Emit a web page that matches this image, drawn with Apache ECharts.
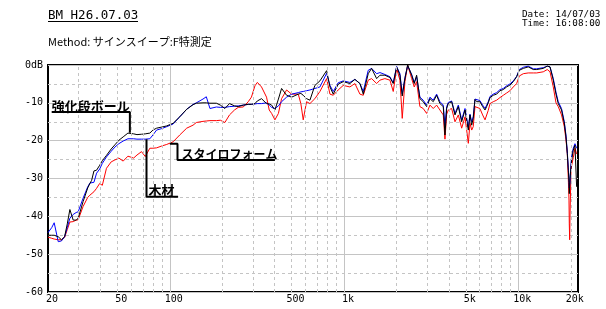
<!DOCTYPE html>
<html>
<head>
<meta charset="utf-8">
<script src="https://cdn.jsdelivr.net/npm/echarts@6/dist/echarts.min.js"></script>
<style>
html, body { margin: 0; padding: 0; background: #fff; }
#chart { width: 606px; height: 309px; }
</style>
</head>
<body>
<div id="chart"></div>
<script>
// frequency points (Hz)
var freqs = [20, 21, 21.7, 22.9, 23.9, 24.9, 25.8, 26.7, 27.9, 29.0, 29.8, 31.8, 33.8, 34.8, 35.6, 36.7, 38.0, 39.6, 41.0, 43.3,
  46.1, 48.4, 51.0, 54.0, 57.5, 59.0, 62, 64.8, 68.8, 72.3, 76.8, 80, 84, 90, 96, 104.5, 114, 125, 136, 142,
  155, 162, 170, 185, 195, 207, 220, 235, 247, 264, 282, 294, 308, 318, 336, 359, 372, 384, 401, 420,
  438, 468, 500, 546, 565, 583, 609, 637, 680, 727, 794, 830, 867, 925, 989, 1080, 1154, 1233, 1289, 1376,
  1439, 1538, 1607, 1715, 1833, 1915, 2003, 2092, 2157, 2235, 2317, 2443, 2527, 2608, 2724, 2846, 2977, 3111, 3249, 3397,
  3549, 3709, 3793, 3880, 3963, 4143, 4331, 4526, 4730, 4943, 5165, 5280, 5400, 5510, 5640, 5770, 6020, 6240, 6440, 6580,
  6720, 6880, 7180, 7510, 7850, 8200, 8570, 8950, 9360, 9780, 10130, 10680, 11400, 11660, 12190, 12740, 13020, 13900, 14660, 15200,
  15870, 16450, 16950, 17700, 18360, 18770, 19100, 19350, 19530, 19610, 19710, 19790, 20050, 20240, 20670, 21140, 21600];

// 強化段ボール (black)
var dbBoard = [-45.0, -45.0, -45.0, -45.4, -46.2, -45.4, -42.0, -38.2, -41.0, -41.0, -40.5, -36.1, -32.5, -31.3, -30.5, -28.0, -27.8, -26.5, -25.3, -23.9,
  -22.2, -21.1, -19.9, -19.0, -18.0, -17.9, -18.2, -18.4, -18.3, -18.2, -18.0, -17.2, -16.7, -16.4, -16.1, -15.4, -13.7, -11.7, -10.5, -10.1,
  -10.0, -10.0, -10.1, -10.1, -10.6, -11.5, -10.2, -10.8, -11.0, -10.6, -10.4, -10.4, -10.2, -9.5, -8.9, -10.2, -10.3, -10.6, -11.9, -9.0,
  -6.2, -8.0, -8.5, -7.7, -7.5, -8.0, -8.9, -9.3, -5.4, -4.2, -1.5, -5.8, -7.7, -5.1, -4.4, -4.9, -3.8, -4.9, -7.7, -2.3,
  -0.9, -3.6, -2.7, -2.7, -3.3, -4.9, -0.5, -2.7, -8.2, -3.6, 0, -2.7, -4.9, -2.7, -8.9, -9.7, -11.0, -8.9, -9.7, -8.0,
  -10.2, -11.0, -18.5, -11.5, -10.2, -9.7, -13.2, -11.0, -15.0, -11.9, -17.2, -13.2, -15.9, -14.1, -9.1, -9.7, -9.7, -11.0, -11.9, -11.0,
  -10.0, -8.6, -8.0, -7.7, -6.8, -6.5, -5.8, -5.3, -4.4, -3.1, -1.4, -0.9, -0.5, -0.7, -1.2, -1.2, -1.2, -0.9, -0.3, -0.5,
  -4.0, -7.7, -10.2, -11.9, -15.4, -19.0, -23.4, -27.8, -31.0, -34.0, -32.2, -30.0, -27.0, -25.1, -22.5, -21.2, -32.2];

// 木材 (blue)
var dbWood = [-44.3, -43.0, -41.7, -46.7, -46.5, -45.4, -43.0, -40.5, -39.5, -39.0, -38.8, -35.2, -32.2, -31.2, -31.6, -31.0, -28.6, -27.5, -26.0, -24.3,
  -22.8, -21.7, -20.8, -20.1, -19.5, -19.4, -19.5, -19.6, -19.6, -19.6, -19.5, -18.5, -17.2, -16.8, -16.3, -15.6, -13.7, -11.7, -10.4, -10.0,
  -9.0, -8.4, -11.5, -11.1, -11.2, -11.2, -11.0, -10.9, -10.8, -10.6, -10.4, -10.4, -10.3, -10.2, -10.2, -10.0, -10.6, -11.2, -11.5, -10.8,
  -9.7, -8.5, -7.7, -7.3, -7.1, -7.0, -6.8, -6.6, -6.2, -5.8, -2.2, -5.4, -7.0, -4.7, -4.2, -4.6, -3.8, -4.9, -7.0, -1.4,
  -0.9, -2.3, -2.0, -2.5, -3.1, -4.7, -0.4, -2.3, -7.7, -3.3, -0.2, -2.5, -4.6, -3.1, -8.5, -9.3, -10.6, -8.5, -9.3, -7.7,
  -9.7, -10.6, -16.0, -11.0, -9.9, -9.5, -12.8, -10.6, -14.5, -11.5, -16.5, -13.0, -15.0, -13.7, -9.0, -9.5, -9.4, -10.6, -11.5, -10.6,
  -9.7, -8.3, -7.7, -7.3, -6.5, -6.2, -5.5, -5.0, -4.2, -3.0, -1.2, -0.6, -0.3, -0.5, -1.0, -1.0, -1.0, -0.7, -0.3, -0.5,
  -3.6, -7.2, -9.7, -11.5, -15.0, -18.5, -23.0, -27.0, -30.0, -32.5, -33.0, -31.0, -26.0, -24.0, -22.0, -20.8, -22.0];

// スタイロフォーム (red)
var dbStyro = [-45.5, -45.8, -46.0, -46.2, -46.2, -45.6, -43.5, -41.5, -41.4, -41.0, -40.9, -37.4, -35.0, -34.4, -34.0, -33.5, -32.6, -31.3, -31.8, -27.3,
  -25.6, -25.1, -24.6, -25.4, -24.1, -24.5, -24.6, -23.8, -22.9, -24.2, -22.0, -22.0, -21.9, -21.4, -21.0, -20.3, -18.5, -16.7, -15.9, -15.2,
  -14.9, -14.8, -14.7, -14.7, -14.6, -15.2, -13.2, -11.9, -11.2, -11.1, -9.7, -8.5, -5.5, -4.6, -5.8, -8.5, -11.9, -12.8, -14.5, -12.8,
  -8.9, -6.6, -7.7, -7.7, -10.2, -14.5, -9.7, -10.2, -8.9, -7.0, -3.6, -7.7, -8.0, -6.6, -5.4, -5.8, -4.9, -7.7, -8.0, -4.0,
  -3.6, -4.9, -4.0, -3.6, -4.0, -7.0, -0.9, -4.0, -14.1, -4.4, 0, -3.6, -5.8, -4.4, -11.0, -11.5, -12.8, -10.6, -11.5, -10.6,
  -11.9, -13.2, -19.6, -13.0, -11.9, -11.5, -15.0, -13.2, -16.7, -13.7, -20.7, -15.4, -17.2, -16.3, -11.0, -11.5, -11.5, -13.2, -14.5, -15.0,
  -12.0, -10.2, -9.7, -9.3, -8.6, -8.0, -7.4, -6.8, -5.8, -4.9, -2.9, -2.3, -2.1, -2.1, -2.1, -2.1, -2.0, -1.8, -1.2, -1.8,
  -5.8, -10.0, -11.0, -13.2, -16.3, -19.8, -23.4, -30.0, -35.7, -42.0, -46.2, -40.0, -28.0, -26.5, -24.5, -22.0, -23.5];

// grid lines and tick labels
var gridFreqs = [20, 30, 40, 50, 60, 70, 80, 90, 100, 200, 300, 400, 500, 600, 700, 800, 900,
  1000, 2000, 3000, 4000, 5000, 6000, 7000, 8000, 9000, 10000, 20000];
var majorFreqs = [100, 1000, 10000];
var xTickLabels = { 20: '20', 50: '50', 100: '100', 500: '500', 1000: '1k', 5000: '5k', 10000: '10k', 20000: '20k' };

// annotations: leader line in data coordinates, text sits on the corner point
var notes = [
  { text: '強化段ボール', path: [[21.0, -12.45], [59.0, -12.45], [59.0, -17.9]], at: 0, dx: 0, size: 13 },
  { text: '木材', path: [[73.5, -19.6], [73.5, -34.8], [111.6, -34.8]], at: 1, dx: 2, size: 13 },
  { text: 'スタイロフォーム', path: [[100.1, -20.8], [110.7, -20.8], [110.7, -25.1], [401, -25.1]], at: 2, dx: 4, size: 12 }
];

function pairs(ys) {
  return freqs.map(function (f, i) { return [f, ys[i]]; });
}

var monoFont = 'DejaVu Sans Mono';
var lineGray = '#c4c4c4';

var vLines = gridFreqs.map(function (f) {
  var txt = xTickLabels[f];
  var style;
  if (f === 20) style = { color: 'rgba(0,0,0,0)', width: 1 };
  else if (majorFreqs.indexOf(f) >= 0) style = { type: 'solid', color: lineGray, width: 1 };
  else style = { type: [3, 3], color: lineGray, width: 1 };
  return {
    xAxis: f,
    lineStyle: style,
    label: txt ? { show: true, formatter: txt } : { show: false }
  };
});

var series = [{
  type: 'line',
  data: [],
  silent: true,
  markLine: {
    silent: true,
    symbol: 'none',
    animation: false,
    label: { position: 'start', distance: 2, offset: [4, 0], color: '#000', fontFamily: monoFont, fontSize: 10 },
    data: vLines
  }
}];

[[dbStyro, '#ff0000'], [dbWood, '#0000ff'], [dbBoard, '#000000']].forEach(function (s) {
  series.push({
    type: 'line',
    data: pairs(s[0]),
    showSymbol: false,
    silent: true,
    lineStyle: { color: s[1], width: 1 },
    animation: false
  });
});

notes.forEach(function (n) {
  series.push({
    type: 'line',
    data: n.path,
    showSymbol: false,
    silent: true,
    z: 5,
    lineStyle: { color: '#000', width: 2 },
    animation: false
  });
});

var chart = echarts.init(document.getElementById('chart'));

chart.setOption({
  animation: false,
  backgroundColor: '#fff',
  grid: { left: 48, right: 28, top: 65, bottom: 17, show: true, borderColor: '#000', borderWidth: 2, backgroundColor: 'transparent' },
  xAxis: {
    type: 'log',
    logBase: 10,
    min: 20,
    max: 22000,
    axisLine: { show: false },
    axisTick: { show: false },
    axisLabel: { show: false },
    splitLine: { show: false }
  },
  yAxis: {
    type: 'value',
    min: -60,
    max: 0,
    interval: 10,
    axisLine: { show: false },
    axisTick: { show: false },
    axisLabel: {
      color: '#000', fontFamily: monoFont, fontSize: 10, margin: 5,
      formatter: function (v) { return v === 0 ? '0dB' : String(v); }
    },
    splitLine: { lineStyle: { color: lineGray, width: 1 } },
    minorTick: { show: false, splitNumber: 2 },
    minorSplitLine: { show: true, lineStyle: { color: lineGray, type: [3, 3], width: 1 } }
  },
  series: series
});

var graphics = [
  { type: 'text', x: 48, y: 9, style: { text: 'BM H26.07.03', font: '12.5px "DejaVu Sans Mono"', fill: '#000' } },
  { type: 'rect', shape: { x: 48, y: 21, width: 90, height: 1 }, style: { fill: '#000' } },
  { type: 'text', x: 48, y: 36, style: { text: 'Method: サインスイープ:F特測定', font: '11px "Noto Sans CJK JP"', fill: '#000' } },
  { type: 'text', x: 522, y: 10, style: { text: 'Date: 14/07/03\nTime: 16:08:00', font: '9.3px "DejaVu Sans Mono"', lineHeight: 9, fill: '#000' } }
];

notes.forEach(function (n) {
  var p = chart.convertToPixel({ gridIndex: 0 }, n.path[n.at]);
  graphics.push({
    type: 'text',
    x: p[0] + n.dx,
    y: p[1],
    z: 10,
    style: {
      text: n.text,
      font: 'bold ' + n.size + 'px "Noto Sans CJK JP"',
      fill: '#000',
      verticalAlign: 'bottom',
      align: 'left'
    }
  });
});

chart.setOption({ graphic: graphics });
</script>
</body>
</html>
